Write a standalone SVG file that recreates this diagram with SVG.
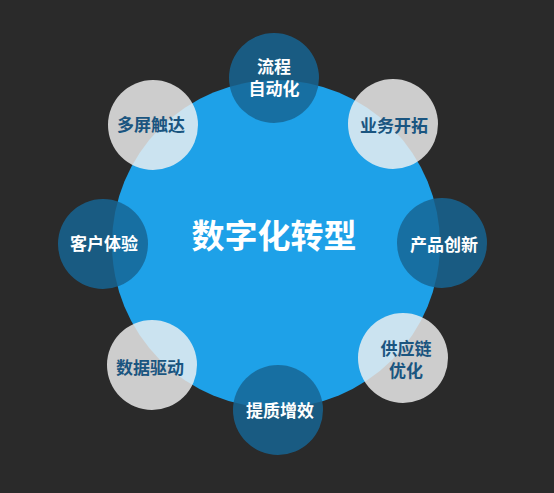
<svg xmlns="http://www.w3.org/2000/svg" width="554" height="493" viewBox="0 0 554 493">
<style>
text{font-family:"Liberation Sans","Noto Sans CJK SC",sans-serif;font-weight:bold;text-anchor:middle;dominant-baseline:central}
.dark circle{fill:#176594;fill-opacity:0.84}
.light circle{fill:#f2f2f2;fill-opacity:0.82}
.dark text{fill:#ffffff;font-size:17px}
.light text{fill:#1a5580;font-size:17px}
</style>
<rect width="554" height="493" fill="#2a2a2a"/>
<g id="core">
<circle cx="276" cy="244" r="164" fill="#1ea1e8"/>
<text x="274" y="236" fill="#ffffff" style="font-size:33px">数字化转型</text>
</g>
<g id="connectors"></g>
<g id="n1" class="dark"><circle cx="274" cy="78" r="45"/><text x="274" y="67">流程</text><text x="274" y="89">自动化</text></g>
<g id="n2" class="light"><circle cx="393" cy="124" r="45"/><text x="394" y="126">业务开拓</text></g>
<g id="n3" class="dark"><circle cx="442" cy="243" r="45"/><text x="444" y="245">产品创新</text></g>
<g id="n4" class="light"><circle cx="403" cy="358" r="45"/><text x="406" y="349">供应链</text><text x="406" y="371">优化</text></g>
<g id="n5" class="dark"><circle cx="278" cy="410" r="45"/><text x="280" y="411">提质增效</text></g>
<g id="n6" class="light"><circle cx="152" cy="365" r="45"/><text x="150" y="368">数据驱动</text></g>
<g id="n7" class="dark"><circle cx="103" cy="244" r="45"/><text x="104" y="244">客户体验</text></g>
<g id="n8" class="light"><circle cx="153" cy="125" r="45"/><text x="151" y="125">多屏触达</text></g>
</svg>
